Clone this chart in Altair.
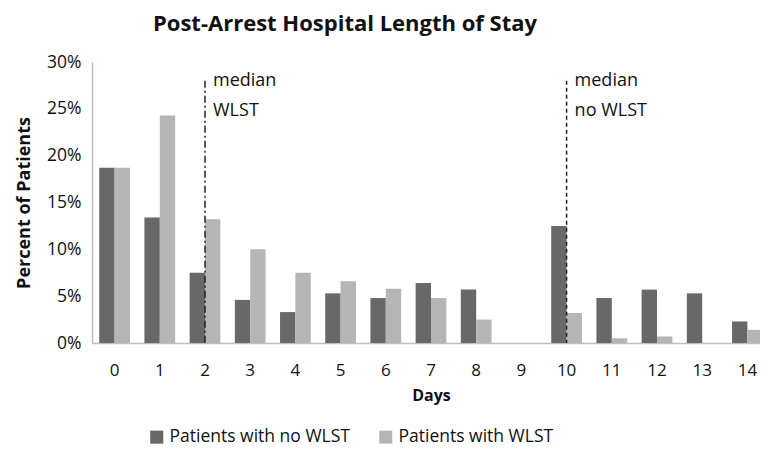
import altair as alt
import pandas as pd

days = list(range(15))
no_wlst = [18.7, 13.4, 7.5, 4.6, 3.3, 5.3, 4.8, 6.4, 5.7, 0, 12.5, 4.8, 5.7, 5.3, 2.3]
wlst = [18.7, 24.3, 13.2, 10.0, 7.5, 6.6, 5.8, 4.8, 2.5, 0, 3.2, 0.5, 0.7, 0, 1.4]
series_names = ["Patients with no WLST", "Patients with WLST"]
colors = ["#686868", "#b5b5b5"]

median_days = [2, 10]
median_top = [28.0, 28.0]
label_lines = [["median", "WLST"], ["median", "no WLST"]]
label_y = [28.0, 24.8]

rows = []
for d, a, b in zip(days, no_wlst, wlst):
    rows.append({"day": d, "series": series_names[0], "pct": a})
    rows.append({"day": d, "series": series_names[1], "pct": b})
bars_df = pd.DataFrame(rows)

rule_df = pd.DataFrame({"day": median_days, "top": median_top, "bottom": [0, 0]})
text_rows = []
for d, lines in zip(median_days, label_lines):
    for ln, yv in zip(lines, label_y):
        text_rows.append({"day": d, "y": yv, "label": ln})
text_df = pd.DataFrame(text_rows)

FONT = "Open Sans"

xscale = alt.Scale(domain=days, paddingInner=0.32, paddingOuter=0.16, range=[0, 678])
yscale = alt.Scale(domain=[0, 30])

bars = alt.Chart(bars_df).mark_bar().encode(
    x=alt.X("day:O", scale=xscale, sort=days,
            axis=alt.Axis(title="Days", labelAngle=0, ticks=False, domainColor="#bfbfbf",
                          domainWidth=1.5,
                          labelFontSize=17, labelColor="#111", labelPadding=19,
                          titleFontSize=16, titleFontWeight="bold", titlePadding=9,
                          titleColor="#111", labelFont=FONT, titleFont=FONT)),
    xOffset=alt.XOffset("series:N", scale=alt.Scale(domain=series_names)),
    y=alt.Y("pct:Q", scale=yscale,
            axis=alt.Axis(title="Percent of Patients", values=[0, 5, 10, 15, 20, 25, 30],
                          labelExpr="datum.value + '%'", grid=False, ticks=False,
                          domainColor="#bfbfbf", domainWidth=1.5, labelFontSize=17.5,
                          labelColor="#111",
                          labelPadding=11, titleFontSize=18, titleFontWeight="bold",
                          titleColor="#111", titlePadding=13, labelFont=FONT, titleFont=FONT)),
    color=alt.Color("series:N", scale=alt.Scale(domain=series_names, range=colors),
                    legend=alt.Legend(title=None, orient="none", direction="horizontal",
                                      legendX=56, legendY=366, symbolType="square",
                                      symbolSize=170, symbolStrokeWidth=0, labelFontSize=17.5,
                                      labelFont=FONT, labelColor="#111", columnPadding=27,
                                      labelLimit=300, symbolOpacity=1)),
)

rule_dashdot = alt.Chart(rule_df[rule_df["day"] == 2]).mark_rule(
    color="#222", strokeWidth=1.5, strokeDash=[7, 3, 2, 3]
).encode(
    x=alt.X("day:O", bandPosition=0.5),
    y="top:Q",
    y2="bottom:Q",
)

rule_dash = alt.Chart(rule_df[rule_df["day"] == 10]).mark_rule(
    color="#222", strokeWidth=1.5, strokeDash=[4, 3]
).encode(
    x=alt.X("day:O", bandPosition=0.5),
    y="top:Q",
    y2="bottom:Q",
)

labels = alt.Chart(text_df).mark_text(
    align="left", baseline="middle", dx=8, fontSize=18, font=FONT, color="#111"
).encode(
    x=alt.X("day:O", bandPosition=0.5),
    y="y:Q",
    text="label:N",
)

chart = alt.layer(bars, rule_dashdot, rule_dash, labels).properties(
    width=668,
    height=281,
    padding={"left": 84, "top": 54, "right": 0, "bottom": 110},
    autosize=alt.AutoSizeParams(type="none"),
    title=alt.TitleParams("Post-Arrest Hospital Length of Stay", anchor="start", dx=61,
                          frame="group",
                          fontSize=22, fontWeight="bold", font=FONT, color="#111", offset=17),
).configure_view(stroke=None)

chart.save("out.html", embed_options={"renderer": "svg", "actions": False})
